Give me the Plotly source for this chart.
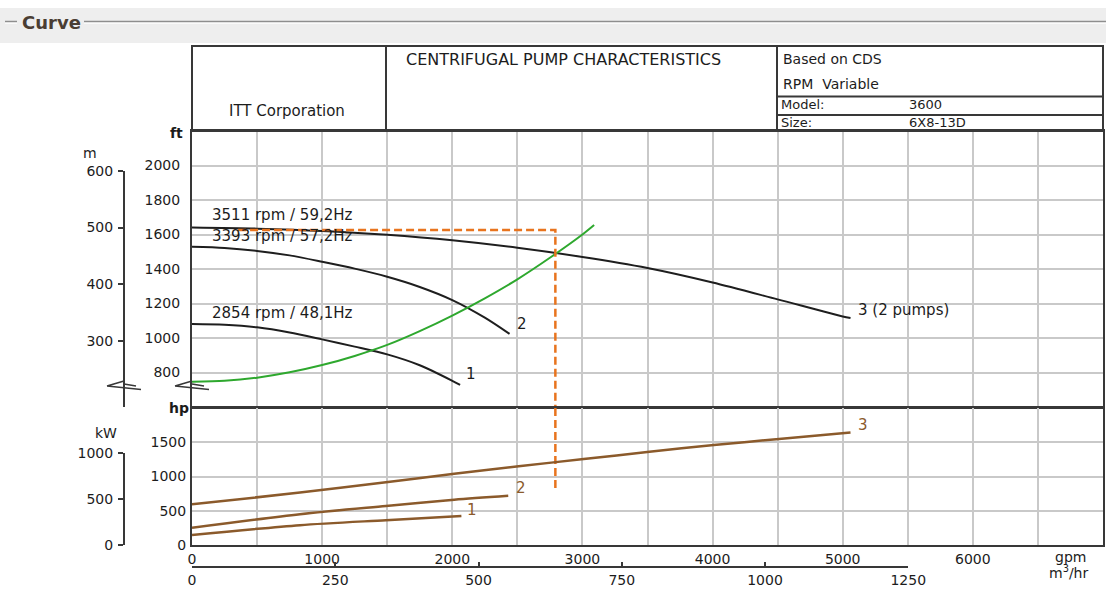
import plotly.graph_objects as go

# ---------------- data ----------------
# head curves (gpm vs ft)
gpm_3511 = [0, 500, 1000, 1500, 2000, 2500, 3000, 3500, 4000, 4500, 5000, 5060]
ft_3511 = [1640, 1634, 1621, 1598, 1566, 1523, 1470, 1406, 1322, 1224, 1125, 1116]

gpm_3393 = [0, 250, 500, 750, 1000, 1250, 1500, 1750, 2000, 2250, 2440]
ft_3393 = [1529, 1522, 1505, 1479, 1442, 1402, 1355, 1296, 1220, 1118, 1024]

gpm_2854 = [0, 250, 500, 750, 1000, 1250, 1500, 1750, 2000, 2060]
ft_2854 = [1081, 1077, 1062, 1032, 992, 950, 905, 842, 752, 728]

# system curve
gpm_sys = [0, 250, 500, 750, 1000, 1250, 1500, 1750, 2000, 2250, 2500, 2750, 3000, 3090]
ft_sys = [747, 752, 770, 801, 843, 896, 960, 1040, 1130, 1230, 1340, 1465, 1600, 1655]

# power curves (gpm vs hp)
gpm_p3 = [0, 830, 1490, 2015, 2510, 3010, 3515, 4010, 4510, 5060]
hp_p3 = [593, 765, 915, 1040, 1150, 1254, 1360, 1460, 1548, 1643]
gpm_p2 = [0, 830, 1490, 2015, 2430]
hp_p2 = [252, 450, 570, 662, 719]
gpm_p1 = [0, 830, 1490, 2070]
hp_p1 = [146, 290, 362, 423]

# duty point guide
duty_gpm = 2792
duty_ft = 1626
duty_start_gpm = 354
duty_hp_end = 832

curve_names = ["3511 rpm / 59,2Hz", "3393 rpm / 57,2Hz", "2854 rpm / 48,1Hz"]
curve_ids = ["3 (2 pumps)", "2", "1"]

gpm_ticks = [0, 1000, 2000, 3000, 4000, 5000, 6000]
ft_ticks = [800, 1000, 1200, 1400, 1600, 1800, 2000]
hp_ticks = [0, 500, 1000, 1500]
m_ticks = [300, 400, 500, 600]
kw_ticks = [0, 500, 1000]
m3h_ticks = [0, 250, 500, 750, 1000, 1250]

GPM_RANGE = [0, 7000]
GPM_GRID_STEP = 500
FT_RANGE = [600, 2200]
HP_RANGE = [0, 2000]
FT_PER_M = 3.28084
HP_PER_KW = 1.34102
GPM_PER_M3H = 4.40287

# ---------------- layout geometry (pixels) ----------------
W, H = 1106, 602
PL, PR = 192, 1103
UT, UB = 131, 407
LT, LB = 408, 545
HT = 46
AX2 = 124          # secondary (SI) axes
M3H_Y = 567


def fx(p):
    return p / W


def fy(p):
    return 1 - p / H


def ft_px(ft):
    return UT + (FT_RANGE[1] - ft) / (FT_RANGE[1] - FT_RANGE[0]) * (UB - UT)


def hp_px(hp):
    return LT + (HP_RANGE[1] - hp) / (HP_RANGE[1] - HP_RANGE[0]) * (LB - LT)


def gpm_px(g):
    return PL + (g - GPM_RANGE[0]) / (GPM_RANGE[1] - GPM_RANGE[0]) * (PR - PL)


m_top_px = ft_px(600 * FT_PER_M)
kw_top_px = hp_px(1000 * HP_PER_KW)
m3h_right_px = gpm_px(1250 * GPM_PER_M3H)

FONT = "DejaVu Sans"
TXT = "#1c1c1c"
GRID = "#c9c9c9"
BORDER = "#383838"
BLACK = "#1e1e1e"
GREEN = "#2ea82e"
BROWN = "#8b5a2b"
ORANGE = "#e8741e"

fig = go.Figure()

# head curves
for g, f in [(gpm_3511, ft_3511), (gpm_3393, ft_3393), (gpm_2854, ft_2854)]:
    fig.add_trace(go.Scatter(x=g, y=f, mode="lines",
                             line=dict(color=BLACK, width=2, shape="spline", smoothing=0.8),
                             xaxis="x", yaxis="y", hoverinfo="skip", showlegend=False))
fig.add_trace(go.Scatter(x=gpm_sys, y=ft_sys, mode="lines",
                         line=dict(color=GREEN, width=2, shape="spline", smoothing=0.8),
                         xaxis="x", yaxis="y", hoverinfo="skip", showlegend=False))

# duty point guide line
fig.add_trace(go.Scatter(x=[duty_start_gpm, duty_gpm, duty_gpm], y=[duty_ft, duty_ft, FT_RANGE[0]],
                         mode="lines", line=dict(color=ORANGE, width=2.5, dash="8px,4px"),
                         xaxis="x", yaxis="y", hoverinfo="skip", showlegend=False))
fig.add_trace(go.Scatter(x=[duty_gpm, duty_gpm], y=[HP_RANGE[1], duty_hp_end],
                         mode="lines", line=dict(color=ORANGE, width=2.5, dash="8px,4px"),
                         xaxis="x2", yaxis="y2", hoverinfo="skip", showlegend=False))

# power curves
for g, p in [(gpm_p3, hp_p3), (gpm_p2, hp_p2), (gpm_p1, hp_p1)]:
    fig.add_trace(go.Scatter(x=g, y=p, mode="lines",
                             line=dict(color=BROWN, width=2.5, shape="spline", smoothing=0.8),
                             xaxis="x2", yaxis="y2", hoverinfo="skip", showlegend=False))

# helper traces so the SI axes get drawn
fig.add_trace(go.Scatter(x=[0], y=[400], mode="markers", marker=dict(opacity=0),
                         xaxis="x4", yaxis="y3", hoverinfo="skip", showlegend=False))
fig.add_trace(go.Scatter(x=[0], y=[500], mode="markers", marker=dict(opacity=0),
                         xaxis="x4", yaxis="y4", hoverinfo="skip", showlegend=False))
fig.add_trace(go.Scatter(x=[500], y=[0], mode="markers", marker=dict(opacity=0),
                         xaxis="x3", yaxis="y5", hoverinfo="skip", showlegend=False))

tickfont = dict(family=FONT, size=14, color=TXT)
common = dict(showline=True, linecolor=BORDER, linewidth=2, mirror=True, zeroline=False,
              showgrid=True, gridcolor=GRID, gridwidth=1.5, tickfont=tickfont, ticks="",
              automargin=False)
gpm_minor = dict(dtick=GPM_GRID_STEP, tick0=0, showgrid=True, gridcolor=GRID, gridwidth=1.5,
                 ticks="")

fig.update_layout(
    width=W, height=H, margin=dict(l=0, r=0, t=0, b=0, pad=0, autoexpand=False),
    paper_bgcolor="white", plot_bgcolor="rgba(0,0,0,0)", showlegend=False,
    xaxis=dict(domain=[fx(PL), fx(PR)], range=GPM_RANGE, anchor="y", tickvals=gpm_ticks,
               showticklabels=False, minor=gpm_minor, **common),
    yaxis=dict(domain=[fy(UB), fy(UT)], range=FT_RANGE, anchor="x", tickvals=ft_ticks,
               ticklabelstandoff=7, **common),
    xaxis2=dict(domain=[fx(PL), fx(PR)], range=GPM_RANGE, anchor="y2", tickvals=gpm_ticks,
                minor=gpm_minor, **common),
    yaxis2=dict(domain=[fy(LB), fy(LT)], range=HP_RANGE, anchor="x2", tickvals=hp_ticks,
                ticklabelstandoff=1, **common),
    yaxis3=dict(domain=[fy(UB), fy(m_top_px)], range=[FT_RANGE[0] / FT_PER_M, 600],
                anchor="free", position=fx(AX2), side="left", showline=True, linecolor=BORDER,
                linewidth=2, ticks="outside", ticklen=5, tickwidth=1.5, tickcolor=BORDER,
                tickvals=m_ticks, showgrid=False, zeroline=False, tickfont=tickfont,
                ticklabelstandoff=2, automargin=False),
    yaxis4=dict(domain=[fy(LB), fy(kw_top_px)], range=[0, 1000],
                anchor="free", position=fx(AX2), side="left", showline=True, linecolor=BORDER,
                linewidth=2, ticks="outside", ticklen=5, tickwidth=1.5, tickcolor=BORDER,
                tickvals=kw_ticks, showgrid=False, zeroline=False, tickfont=tickfont,
                ticklabelstandoff=2, automargin=False),
    xaxis3=dict(domain=[fx(PL), fx(m3h_right_px)], range=[0, 1250], anchor="free",
                position=fy(M3H_Y), side="bottom", showline=True, linecolor=BORDER, linewidth=2,
                ticks="inside", ticklen=4, tickwidth=1.5, tickcolor=BORDER, tickvals=m3h_ticks,
                showgrid=False, zeroline=False, tickfont=tickfont, automargin=False),
    xaxis4=dict(domain=[fx(PL), fx(PR)], range=GPM_RANGE, visible=False, anchor="free",
                position=0, automargin=False),
    yaxis5=dict(domain=[0, 0.02], range=[0, 1], visible=False, anchor="free", position=0,
                automargin=False),
)

shapes = []
# panel band with etched heading line
shapes.append(dict(type="rect", xref="paper", yref="paper", x0=0, x1=1, y0=fy(43), y1=fy(8),
                   fillcolor="#eeeeee", line=dict(width=0), layer="below"))
for x0, x1 in [(5, 17), (84, W)]:
    shapes.append(dict(type="line", xref="paper", yref="paper", x0=fx(x0), x1=fx(x1),
                       y0=fy(21.5), y1=fy(21.5), line=dict(color="#8e8e8e", width=1.5)))
    shapes.append(dict(type="line", xref="paper", yref="paper", x0=fx(x0), x1=fx(x1),
                       y0=fy(23.2), y1=fy(23.2), line=dict(color="#ffffff", width=1)))

# title block
shapes.append(dict(type="rect", xref="paper", yref="paper", x0=fx(PL), x1=fx(PR),
                   y0=fy(UT), y1=fy(HT), line=dict(color=BORDER, width=2)))
for xv in [386, 777]:
    shapes.append(dict(type="line", xref="paper", yref="paper", x0=fx(xv), x1=fx(xv),
                       y0=fy(UT), y1=fy(HT), line=dict(color=BORDER, width=2)))
for yv in [96.5, 115]:
    shapes.append(dict(type="line", xref="paper", yref="paper", x0=fx(777), x1=fx(PR),
                       y0=fy(yv), y1=fy(yv), line=dict(color=BORDER, width=2)))

# axis break marks
for ax in [AX2, PL]:
    path = (f"M {fx(ax - 17)},{fy(386)} L {fx(ax)},{fy(381)} "
            f"M {fx(ax - 17)},{fy(386)} L {fx(ax + 17)},{fy(389.5)} "
            f"M {fx(ax)},{fy(384)} L {fx(ax + 12)},{fy(386)}")
    shapes.append(dict(type="path", xref="paper", yref="paper", path=path,
                       line=dict(color=BORDER, width=1.5)))

fig.update_layout(shapes=shapes)

ann = []


def paper_text(text, x, y, size=14, xanchor="center", color=TXT, weight="normal"):
    ann.append(dict(text=text, xref="paper", yref="paper", x=fx(x), y=fy(y), showarrow=False,
                    xanchor=xanchor, yanchor="middle",
                    font=dict(family=FONT, size=size, color=color, weight=weight)))


paper_text("Curve", 20, 22, size=18, xanchor="left", color="#4a3d33", weight="bold")
paper_text("ITT Corporation", 287, 111, size=15)
paper_text("CENTRIFUGAL PUMP CHARACTERISTICS", 404, 60, size=16, xanchor="left")
paper_text("Based on CDS", 781, 59, size=14, xanchor="left")
paper_text("RPM&nbsp;&nbsp;Variable", 781, 84, size=14, xanchor="left")
paper_text("Model:", 779, 105, size=13, xanchor="left")
paper_text("3600", 907, 105, size=13, xanchor="left")
paper_text("Size:", 779, 123, size=13, xanchor="left")
paper_text("6X8-13D", 907, 123, size=13, xanchor="left")
paper_text("ft", 176, 133, size=14, weight="bold")
paper_text("hp", 179, 408, size=14, weight="bold")
paper_text("m", 90, 153, size=14)
paper_text("kW", 106, 433, size=14)
paper_text("gpm", 1070, 557, size=14)
paper_text("m<sup>3</sup>/hr", 1068, 572, size=14)

# curve captions
lbl_font = dict(family=FONT, size=15, color=TXT)
for name, g, f, dy in [(curve_names[0], gpm_3511, ft_3511, 13),
                       (curve_names[1], gpm_3393, ft_3393, 11),
                       (curve_names[2], gpm_2854, ft_2854, 11)]:
    ann.append(dict(text=name, x=140, y=f[0], xref="x", yref="y", showarrow=False,
                    xanchor="left", yanchor="middle", yshift=dy, font=lbl_font))

for text, g, f, xs, ys in [(curve_ids[0], gpm_3511, ft_3511, 5, 8),
                           (curve_ids[1], gpm_3393, ft_3393, 5, 10),
                           (curve_ids[2], gpm_2854, ft_2854, 4, 11)]:
    ann.append(dict(text=text, x=g[-1], y=f[-1], xref="x", yref="y", showarrow=False,
                    xanchor="left", yanchor="middle", xshift=xs, yshift=ys, font=lbl_font))

pw_font = dict(family=FONT, size=15, color=BROWN)
for text, g, p, xs, ys in [("3", gpm_p3, hp_p3, 5, 7),
                           ("2", gpm_p2, hp_p2, 6, 8),
                           ("1", gpm_p1, hp_p1, 4, 6)]:
    ann.append(dict(text=text, x=g[-1], y=p[-1], xref="x2", yref="y2", showarrow=False,
                    xanchor="left", yanchor="middle", xshift=xs, yshift=ys, font=pw_font))

fig.update_layout(annotations=ann)

fig.write_html("out.html")
